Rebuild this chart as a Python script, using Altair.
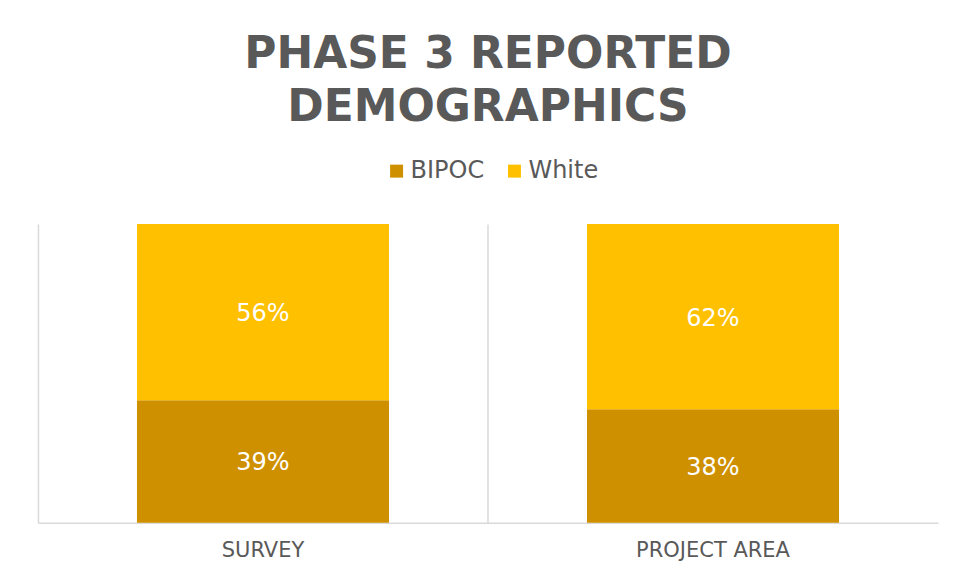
import altair as alt
import pandas as pd

categories = ["SURVEY", "PROJECT AREA"]
groups = ["BIPOC", "White"]
bipoc = [39, 38]
white = [56, 62]

rows = []
for i, c in enumerate(categories):
    rows.append({"category": c, "group": "BIPOC", "order": 0, "value": bipoc[i]})
    rows.append({"category": c, "group": "White", "order": 1, "value": white[i]})
df = pd.DataFrame(rows)

GRAY = "#595959"
LINE = "#D9D9D9"
FONT = "DejaVu Sans"

base = alt.Chart(df).transform_stack(
    stack="value",
    groupby=["category"],
    as_=["y0", "y1"],
    offset="normalize",
    sort=[alt.SortField("order")],
).transform_calculate(
    mid="(datum.y0 + datum.y1) / 2",
    label="datum.value + '%'",
)

xscale = alt.Scale(paddingInner=0, paddingOuter=0)
yscale = alt.Scale(domain=[0, 1], nice=False, zero=True)

bars = base.mark_bar(width=alt.RelativeBandSize(0.56)).encode(
    x=alt.X(
        "category:N",
        sort=categories,
        title=None,
        scale=xscale,
        axis=alt.Axis(
            labelAngle=0,
            ticks=False,
            labelPadding=17,
            labelFont=FONT,
            labelFontSize=21,
            labelColor=GRAY,
            domainColor=LINE,
            domainWidth=1.5,
            grid=True,
            gridColor=LINE,
            gridWidth=1.5,
            bandPosition=0,
        ),
    ),
    y=alt.Y(
        "y0:Q",
        scale=yscale,
        axis=alt.Axis(
            orient="right",
            labels=False,
            ticks=False,
            grid=False,
            title=None,
            domainColor=LINE,
            domainWidth=1.5,
        ),
    ),
    y2="y1:Q",
    color=alt.Color(
        "group:N",
        scale=alt.Scale(domain=groups, range=["#CF9000", "#FFC000"]),
        legend=alt.Legend(
            title=None,
            orient="none",
            legendX=347,
            legendY=-65,
            direction="horizontal",
            symbolType="square",
            symbolSize=169,
            symbolStrokeWidth=0,
            labelFont=FONT,
            labelFontSize=24,
            labelColor=GRAY,
            labelOffset=2,
            columnPadding=18,
        ),
    ),
)

text = base.mark_text(font=FONT, fontSize=24, color="white", dy=2).encode(
    x=alt.X("category:N", sort=categories, scale=xscale),
    y=alt.Y("mid:Q", scale=yscale, axis=None),
    text="label:N",
)

chart = (
    alt.layer(bars, text)
    .properties(
        width=901,
        height=299,
        padding={"left": 30, "top": 216, "right": 10, "bottom": 46},
        autosize=alt.AutoSizeParams(type="none"),
        title=alt.TitleParams(
            text=["PHASE 3 REPORTED", "DEMOGRAPHICS"],
            font=FONT,
            fontSize=44,
            fontWeight="bold",
            color=GRAY,
            anchor="middle",
            lineHeight=53,
            offset=29,
        ),
    )
    .configure_view(stroke=None)
)

chart.save("out.html", embed_options={"renderer": "svg", "actions": False})
